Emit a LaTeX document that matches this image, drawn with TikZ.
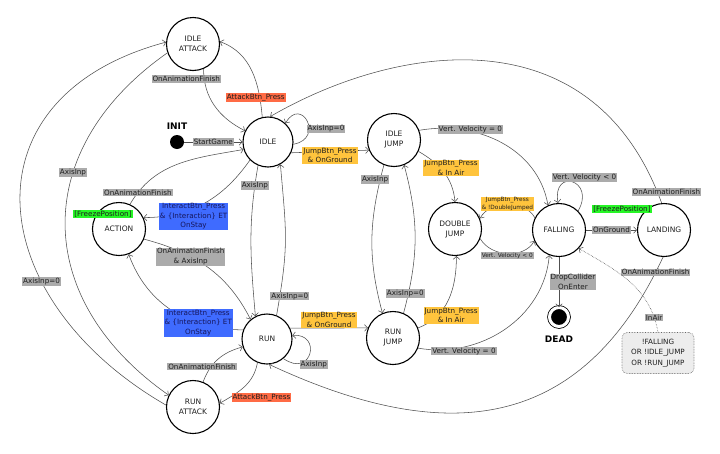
\documentclass[tikz,border=0pt]{standalone}
\usepackage{fontspec}
\setmainfont{DejaVu Sans}
\usepackage{xcolor}
\usepackage{tikz}
\usetikzlibrary{arrows.meta,positioning}
\definecolor{linegray}{HTML}{505050}
\definecolor{grayfill}{HTML}{ABABAB}
\definecolor{orangefill}{HTML}{FFC43D}
\definecolor{redfill}{HTML}{FF6B45}
\definecolor{bluefill}{HTML}{3F6BFF}
\definecolor{greenfill}{HTML}{26F626}
\definecolor{notegray}{HTML}{EDEDED}
\definecolor{textdark}{HTML}{1E1E1E}
\definecolor{bluetext}{HTML}{16165C}
\tikzset{every node/.append style={font=\rmfamily}}
\tikzset{
  state/.style={circle,draw=black,line width=1.1pt,minimum size=53pt,inner sep=0pt,
    align=center,text=textdark,font=\fontsize{7.5}{10}\selectfont},
  initdot/.style={circle,fill=black,minimum size=14pt,inner sep=0pt},
  deadst/.style={circle,fill=black,draw=black,line width=.8pt,double=white,
    double distance=3pt,minimum size=19pt,inner sep=0pt},
  boldlbl/.style={font=\bfseries\fontsize{9}{10}\selectfont},
  trans/.style={draw=linegray,line width=.55pt,-{Straight Barb[length=3pt,width=6.5pt]}},
  graytag/.style={fill=grayfill,text=textdark,inner xsep=1pt,inner ysep=.8pt,
    align=center,font=\fontsize{7.2}{9.6}\selectfont},
  orangetag/.style={graytag,fill=orangefill},
  redtag/.style={graytag,fill=redfill},
  bluetag/.style={graytag,fill=bluefill,text=bluetext},
  freezetag/.style={graytag,fill=greenfill},
  smalltag/.style={graytag,font=\fontsize{5.8}{7.6}\selectfont},
  notebox/.style={draw=gray!80!black,densely dotted,line width=.6pt,rounded corners=5pt,
    fill=notegray,minimum width=72pt,minimum height=41pt,align=center,text=textdark,
    font=\fontsize{7.2}{10.5}\selectfont}
}

\begin{document}
\begin{tikzpicture}[x=1pt,y=-1pt]
  \useasboundingbox (0,0) rectangle (720,453);
  \node[state] (idleatk) at (193,44) {IDLE\\ATTACK};
  \node[state,minimum size=50pt] (idle) at (268,142) {IDLE};
  \node[initdot] (init) at (177,142) {};
  \node[boldlbl,above=2pt of init] (initlbl) {INIT};
  \node[state] (action) at (119,229) {ACTION};
  \node[state,minimum size=50pt] (run) at (267,339) {RUN};
  \node[state] (runatk) at (193,407) {RUN\\ATTACK};
  \node[state] (idlejump) at (394,140) {IDLE\\JUMP};
  \node[state] (dbljump) at (455,229) {DOUBLE\\JUMP};
  \node[state] (runjump) at (393,338) {RUN\\JUMP};
  \node[state] (falling) at (559,230) {FALLING};
  \node[state] (landing) at (664,230) {LANDING};
  \node[deadst] (dead) at (559,317) {};
  \node[boldlbl,below=5pt of dead] (deadlbl) {DEAD};
  \node[notebox] (note) at (658,353) {!FALLING\\OR !IDLE\_JUMP\\OR !RUN\_JUMP};

  \draw[trans] (init) -- node[graytag] {StartGame} (idle);
  \draw[trans] (idleatk.-67) to[out=-90,in=153]
    node[graytag,pos=.12,xshift=-18pt] {OnAnimationFinish} (idle.154);
  \draw[trans] (idle.103) to[out=95,in=-20]
    node[redtag,pos=.2,xshift=-4pt] {AttackBtn\_Press} (idleatk.5);
  \draw[trans] (idle.-5) to[out=10,in=60,out distance=32pt,in distance=32pt]
    node[graytag,pos=.45,right=-2pt,yshift=-5pt] {AxisInp=0} (idle.47);
  \draw[trans] (idle.-25) --
    node[orangetag,yshift=-4pt] {JumpBtn\_Press\\\& OnGround} (idlejump.202);
  \draw[trans] (idle.225) to[out=-125,in=0]
    node[bluetag,pos=.6,yshift=-8pt] {InteractBtn\_Press\\\& \{Interaction\} ET\\OnStay} (action.25);
  \draw[trans] (action.66) to[out=60,in=190]
    node[graytag,pos=.1] {OnAnimationFinish} (idle.197);
  \draw[trans] (action.-22) to[out=-15,in=117]
    node[graytag,pos=.35] {OnAnimationFinish\\\& AxisInp} (run.130);
  \draw[trans] (run.159) to[out=180,in=-70]
    node[bluetag,pos=.3] {InteractBtn\_Press\\\& \{Interaction\} ET\\OnStay} (action.-69);
  \draw[trans] (idle.-113) to[out=-100,in=95]
    node[graytag,pos=.12] {AxisInp} (run.117);
  \draw[trans] (run.68) to[out=80,in=-85,looseness=1.2]
    node[graytag,pos=.1,xshift=10pt] {AxisInp=0} (idle.-61);
  \draw[trans] (run.-50) to[out=-35,in=5,out distance=35pt,in distance=30pt]
    node[graytag,pos=.35,xshift=8pt,yshift=-4pt] {AxisInp} (run.8);
  \draw[trans] (run.25) --
    node[orangetag,yshift=8pt] {JumpBtn\_Press\\\& OnGround} (runjump.158);
  \draw[trans] (run.-112) to[out=-100,in=30]
    node[redtag,pos=.7,xshift=26pt,yshift=-4pt] {AttackBtn\_Press} (runatk.8);
  \draw[trans] (runatk.68) to[out=70,in=195]
    node[graytag,pos=.3,xshift=-9pt] {OnAnimationFinish} (run.198);
  \draw[trans] (idleatk.199) to[out=215,in=145,looseness=1.25]
    node[graytag,pos=.36] {AxisInp} (runatk.154);
  \draw[trans] (runatk.176) to[out=150,in=195,looseness=1.5]
    node[graytag,pos=.32] {AxisInp=0} (idleatk.176);

  \draw[trans] (idlejump.-112) to[out=-105,in=105]
    node[graytag,pos=.09,xshift=-5pt] {AxisInp} (runjump.113);
  \draw[trans] (runjump.67) to[out=75,in=-75]
    node[graytag,pos=.12,xshift=-3pt] {AxisInp=0} (idlejump.-68);
  \draw[trans] (idlejump.-25) to[out=-30,in=95]
    node[orangetag,pos=.45,xshift=9pt,yshift=2pt] {JumpBtn\_Press\\\& In Air} (dbljump.90);
  \draw[trans] (runjump.22) to[out=20,in=-90]
    node[orangetag,pos=.35,xshift=9pt,yshift=-5pt] {JumpBtn\_Press\\\& In Air} (dbljump.-87);
  \draw[trans] (idlejump.21) to[out=10,in=100]
    node[graytag,pos=.3,yshift=2pt] {Vert. Velocity = 0} (falling.114);
  \draw[trans] (runjump.-22) to[out=-10,in=-95]
    node[graytag,pos=.25,yshift=-4pt] {Vert. Velocity = 0} (falling.-111);
  \draw[trans] (falling.153) to[out=120,in=60]
    node[smalltag,fill=orangefill,pos=.5] {JumpBtn\_Press\\\& !DoubleJumped} (dbljump.23);
  \draw[trans] (dbljump.-21) to[out=-60,in=240]
    node[smalltag,pos=.5,yshift=-2pt] {Vert. Velocity < 0} (falling.204);
  \draw[trans] (falling.45) to[out=60,in=100,out distance=36pt,in distance=36pt]
    node[graytag,pos=.5,anchor=south,xshift=12pt] {Vert. Velocity < 0} (falling.92);
  \draw[trans] (falling) -- node[graytag] {OnGround} (landing);
  \draw[trans] (falling) -- node[graytag,xshift=14pt] {DropCollider\\OnEnter} (dead);
  \draw[trans] (landing.95) to[out=110,in=30,out distance=200pt,in distance=150pt]
    node[graytag,pos=.02,xshift=9pt] {OnAnimationFinish} (idle.85);
  \draw[trans] (landing.-92) to[out=-115,in=-25,out distance=190pt,in distance=200pt]
    node[graytag,pos=.03] {OnAnimationFinish} (run.-85);
  \draw[trans,densely dotted,line width=.6pt] (note.north) to[out=100,in=-30]
    node[graytag,pos=.12] {InAir} (falling.-43);

  \node[freezetag] (fzaction) at (103,214) {[FreezePosition]};
  \node[freezetag] (fzlanding) at (622,209) {[FreezePosition]};
\end{tikzpicture}
\end{document}
